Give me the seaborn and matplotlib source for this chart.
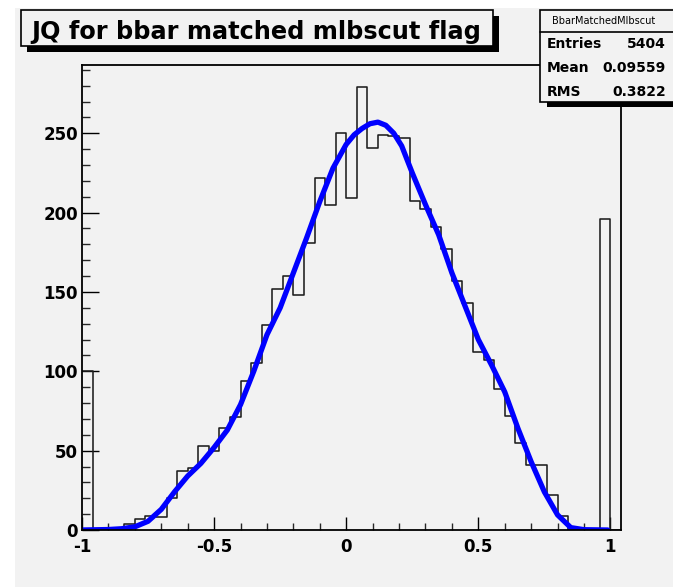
import numpy as np
import pandas as pd
import matplotlib
matplotlib.use("Agg")
import matplotlib.pyplot as plt
import seaborn as sns
from matplotlib.patches import Rectangle
from matplotlib.lines import Line2D
from matplotlib.ticker import MultipleLocator, FixedLocator, FixedFormatter

# ---------------- data ----------------
bin_low = -1.0
bin_width = 0.04
counts = [100, 0, 0, 0, 4, 7, 9, 8, 20, 37,
          39, 53, 50, 64, 71, 94, 105, 129, 152, 160,
          148, 181, 222, 205, 250, 209, 279, 241, 249, 248,
          247, 207, 202, 191, 177, 157, 143, 112, 107, 89,
          72, 55, 41, 41, 22, 9, 0, 0, 0, 196,
          0]
fit_x = [-1.0, -0.9, -0.85, -0.8, -0.75, -0.7, -0.65, -0.6, -0.55, -0.5,
         -0.45, -0.4, -0.35, -0.3, -0.25, -0.2, -0.15, -0.1, -0.05, 0.0,
         0.03, 0.06, 0.09, 0.12, 0.15, 0.18, 0.21, 0.25, 0.3, 0.35, 0.4, 0.45,
         0.5, 0.55, 0.6, 0.65, 0.7, 0.75, 0.8, 0.85, 0.9, 0.99]
fit_y = [0, 0.3, 0.8, 2, 5.5, 13, 24, 34, 42, 52,
         63, 79, 100, 123, 140, 162, 184, 207, 228, 243,
         249, 253, 256, 257, 255, 250, 242, 225, 205, 186, 162, 141,
         120, 104, 87, 64, 43, 24, 9.5, 1.5, 0.2, 0]
x_ticks = [-1, -0.5, 0, 0.5, 1]
x_tick_labels = ["-1", "-0.5", "0", "0.5", "1"]
y_ticks = [0, 50, 100, 150, 200, 250]
y_tick_labels = ["0", "50", "100", "150", "200", "250"]
title_text = "JQ for bbar matched mlbscut flag"
stats_name = "BbarMatchedMlbscut"
stats_labels = ["Entries", "Mean", "RMS"]
stats_values = ["5404", "0.09559", "0.3822"]

# ---------------- figure ----------------
W, H = 673, 587
sns.set_theme(style="white")
plt.rcParams["font.family"] = ["DejaVu Sans"]
plt.rcParams["axes.unicode_minus"] = False

fig = plt.figure(figsize=(W / 100, H / 100), dpi=100, facecolor="white")


def fx(x):
    return x / W


def fy(y):
    return 1 - y / H


bg = "#f2f2f2"
fig.add_artist(Rectangle((fx(15), 0), 1 - fx(15), fy(8), transform=fig.transFigure,
                         facecolor=bg, edgecolor="none", zorder=-10))

ax = fig.add_axes([fx(82), fy(530), fx(621) - fx(82), fy(65) - fy(530)])
ax.set_facecolor(bg)

edges = bin_low + bin_width * np.arange(len(counts) + 1)
centers = edges[:-1] + bin_width / 2
hist_df = pd.DataFrame({"x": centers, "n": counts})
sns.histplot(data=hist_df, x="x", weights="n", bins=list(edges), element="step", fill=False,
             color="#1e1e1e", linewidth=1.15, ax=ax)

fit_df = pd.DataFrame({"x": fit_x, "y": fit_y})
sns.lineplot(data=fit_df, x="x", y="y", color="#0000ff", linewidth=3.8, ax=ax,
             sort=False, estimator=None, solid_joinstyle="round", solid_capstyle="round")

ax.set_xlim(-1, 1.04)
ax.set_ylim(0, 293)
ax.set_xlabel("")
ax.set_ylabel("")

for s in ax.spines.values():
    s.set_visible(True)
    s.set_color("black")
    s.set_linewidth(1.3)

ax.xaxis.set_major_locator(FixedLocator(x_ticks))
ax.xaxis.set_major_formatter(FixedFormatter(x_tick_labels))
ax.xaxis.set_minor_locator(MultipleLocator(0.1))
ax.yaxis.set_major_locator(FixedLocator(y_ticks))
ax.yaxis.set_major_formatter(FixedFormatter(y_tick_labels))
ax.yaxis.set_minor_locator(MultipleLocator(10))

ax.tick_params(axis="x", which="major", direction="in", length=9.5, width=1.0,
               bottom=True, top=False, pad=6, labelsize=12, colors="black")
ax.tick_params(axis="x", which="minor", direction="in", length=5, width=1.0,
               bottom=True, top=False)
ax.tick_params(axis="y", which="major", direction="in", length=12.2, width=1.0,
               left=True, right=False, pad=3, labelsize=12, colors="black")
ax.tick_params(axis="y", which="minor", direction="in", length=6, width=1.0,
               left=True, right=False)
for lab in ax.get_xticklabels() + ax.get_yticklabels():
    lab.set_fontweight("bold")

# ---------------- title box ----------------
tb_l, tb_t, tb_r, tb_b = 21, 10, 493, 46
sh = 6
fig.add_artist(Rectangle((fx(tb_l + sh), fy(tb_b + sh)), fx(tb_r) - fx(tb_l), fy(tb_t) - fy(tb_b),
                         transform=fig.transFigure, facecolor="black", edgecolor="none", zorder=5))
fig.add_artist(Rectangle((fx(tb_l), fy(tb_b)), fx(tb_r) - fx(tb_l), fy(tb_t) - fy(tb_b),
                         transform=fig.transFigure, facecolor=bg, edgecolor="black",
                         linewidth=1.2, zorder=6))
fig.text(fx(31), fy(38.5), title_text, fontsize=17.3, fontweight="bold", ha="left",
         va="baseline", color="black", zorder=7)

# ---------------- stats box ----------------
sb_l, sb_t, sb_r, sb_b = 540, 10, 690, 102
fig.add_artist(Rectangle((fx(sb_l + 7), fy(sb_b + 5)), fx(sb_r) - fx(sb_l), fy(sb_t) - fy(sb_b),
                         transform=fig.transFigure, facecolor="black", edgecolor="none", zorder=5))
fig.add_artist(Rectangle((fx(sb_l), fy(sb_b)), fx(sb_r) - fx(sb_l), fy(sb_t) - fy(sb_b),
                         transform=fig.transFigure, facecolor=bg, edgecolor="black",
                         linewidth=1.2, zorder=6))
fig.add_artist(Line2D([fx(sb_l), fx(673)], [fy(32), fy(32)], transform=fig.transFigure,
                      color="black", linewidth=1.2, zorder=7))
fig.text(fx(604), fy(24), stats_name, fontsize=7, ha="center", va="baseline",
         color="black", zorder=7)
baselines = [48.5, 72.2, 95.7]
for lab, val, yb in zip(stats_labels, stats_values, baselines):
    fig.text(fx(547), fy(yb), lab, fontsize=10, fontweight="bold", ha="left",
             va="baseline", color="black", zorder=7)
    fig.text(fx(666), fy(yb), val, fontsize=10, fontweight="bold", ha="right",
             va="baseline", color="black", zorder=7)

fig.savefig("out.png", dpi=100, facecolor="white")
